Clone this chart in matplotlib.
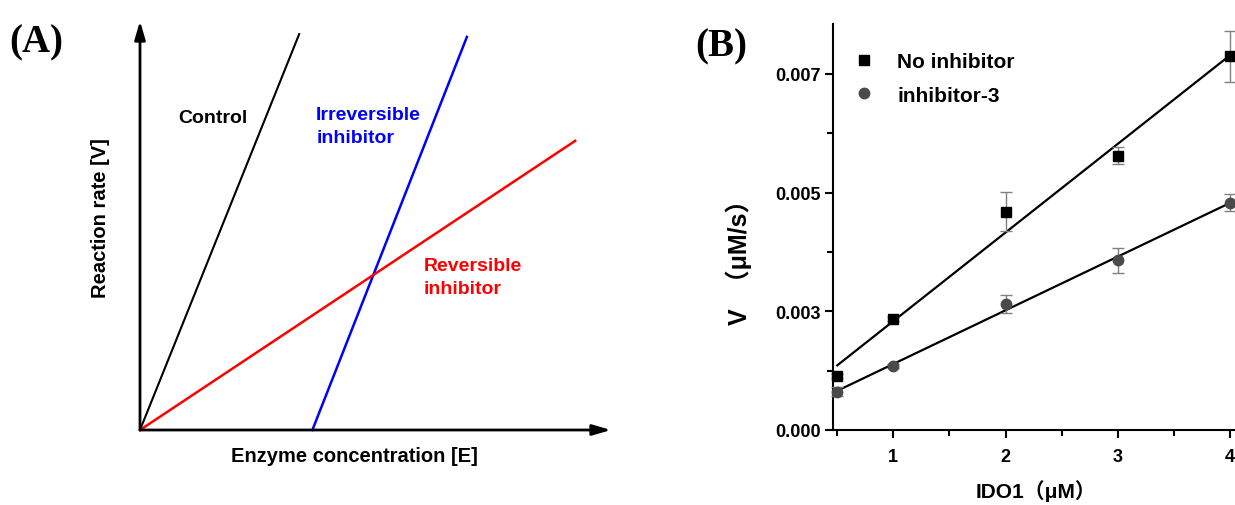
import numpy as np
import matplotlib
matplotlib.use("Agg")
import matplotlib.pyplot as plt
from matplotlib.lines import Line2D
from matplotlib.ticker import FormatStrFormatter, MultipleLocator, AutoMinorLocator

plt.rcParams['font.family'] = ['Liberation Sans', 'Noto Sans CJK SC', 'DejaVu Sans']
plt.rcParams['font.weight'] = 'bold'
plt.rcParams['axes.labelweight'] = 'bold'

# panel A: schematic lines (arbitrary units, axes run 0..10)
E_control = [0, 3.38]
V_control = [0, 9.68]
E_irrev = [3.66, 6.94]
V_irrev = [0, 9.61]
E_rev = [0, 9.24]
V_rev = [0, 7.07]

# panel B: measured rates
ido1 = [0.5, 1, 2, 3, 4]
v_none = [0.00114, 0.00234, 0.00460, 0.00578, 0.00787]
v_none_err = [0.00004, 0.00004, 0.00041, 0.00018, 0.00054]
v_inh3 = [0.00081, 0.00135, 0.00265, 0.00357, 0.00479]
v_inh3_err = [0.00010, 0.00004, 0.00019, 0.00026, 0.00018]
yticks_b = [0, 0.0025, 0.005, 0.0075]
xticks_b = [1, 2, 3, 4]

W, H = 1235, 506
fig = plt.figure(figsize=(W / 100, H / 100), dpi=100)

# ---------------- panel A ----------------
axA = fig.add_axes([140 / W, (H - 431) / H, (611 - 140) / W, (431 - 22) / H])
axA.set_xlim(0, 10)
axA.set_ylim(0, 10)
axA.axis('off')
arrow = dict(arrowstyle='-|>,head_length=0.55,head_width=0.16', color='black',
             lw=2, shrinkA=0, shrinkB=0, mutation_scale=20)
axA.annotate('', xy=(10, 0), xytext=(0, 0), arrowprops=arrow, annotation_clip=False)
axA.annotate('', xy=(0, 10), xytext=(0, 0), arrowprops=arrow, annotation_clip=False)

axA.plot(E_control, V_control, color='black', lw=1.5, clip_on=False)
axA.plot(E_irrev, V_irrev, color='#0000ff', lw=1.8, clip_on=False)
axA.plot(E_rev, V_rev, color='#ff0000', lw=1.8, clip_on=False)

axA.text(1.55, 7.65, 'Control', fontsize=14, ha='center', va='center', color='black')
axA.text(3.74, 7.44, 'Irreversible\ninhibitor', fontsize=14, ha='left', va='center',
         color='#0000ff', linespacing=1.45)
axA.text(6.03, 3.75, 'Reversible\ninhibitor', fontsize=14, ha='left', va='center',
         color='#ff0000', linespacing=1.45)

fig.text(100 / W, 1 - 218 / H, 'Reaction rate [V]', rotation=90, fontsize=14.5,
         ha='center', va='center')
fig.text(354 / W, 1 - 457 / H, 'Enzyme concentration [E]', fontsize=14.5,
         ha='center', va='center')
fig.text(36 / W, 1 - 43 / H, '(A)', family='Liberation Serif', fontsize=28,
         ha='center', va='center')

# ---------------- panel B ----------------
axB = fig.add_axes([833 / W, (H - 431) / H, (W - 833) / W, (431 - 25) / H])
axB.set_xlim(0.462, 4.045)
axB.set_ylim(0, 0.00855)

for v, err, mk, col, ms in [(v_none, v_none_err, 's', 'black', 6.5),
                            (v_inh3, v_inh3_err, 'o', '#4a4a4a', 7.5)]:
    axB.errorbar(ido1, v, yerr=err, fmt=mk, color=col, ms=ms, ecolor='#808080',
                 elinewidth=1, capsize=4, capthick=1, clip_on=False, zorder=3)
    k, b = np.polyfit(ido1, v, 1)
    xs = np.array([ido1[0], ido1[-1]])
    axB.plot(xs, k * xs + b, color='black', lw=1.6, zorder=2)

axB.spines['top'].set_visible(False)
axB.spines['right'].set_visible(False)
axB.spines['left'].set_linewidth(1.5)
axB.spines['bottom'].set_linewidth(1.5)
axB.set_yticks(yticks_b)
axB.yaxis.set_major_formatter(FormatStrFormatter('%.3f'))
axB.yaxis.set_minor_locator(AutoMinorLocator(2))
axB.set_xticks(xticks_b)
axB.xaxis.set_minor_locator(MultipleLocator(0.5))
axB.tick_params(which='major', length=6, width=1.5, labelsize=13, pad=3)
axB.tick_params(which='minor', length=4, width=1.5)
axB.tick_params(axis='x', which='major', pad=7)

axB.set_xlabel('IDO1（μM）', fontsize=15, fontweight='bold')
axB.set_ylabel('V  （μM/s）', fontsize=18, fontweight='bold')
axB.xaxis.set_label_coords(0.505, -0.122)
axB.yaxis.set_label_coords(-0.2015, 0.43)

handles = [Line2D([], [], marker='s', ls='none', color='black', ms=6.5),
           Line2D([], [], marker='o', ls='none', color='#4a4a4a', ms=7.5)]
axB.legend(handles, ['No inhibitor', 'inhibitor-3'], loc='upper left',
           bbox_to_anchor=(0.051, 0.931), frameon=False, fontsize=15,
           borderaxespad=0, borderpad=0, handlelength=1.0, handletextpad=1.09,
           labelspacing=0.7)

fig.text(721 / W, 1 - 47 / H, '(B)', family='Liberation Serif', fontsize=28,
         ha='center', va='center')

fig.savefig('out.png', dpi=100)
